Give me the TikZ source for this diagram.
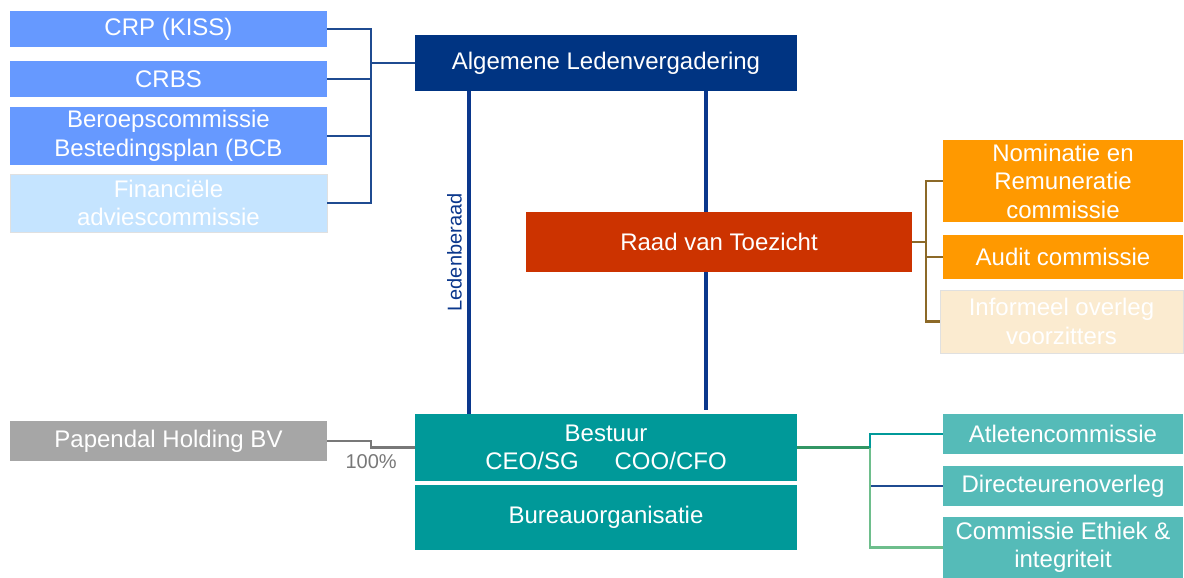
\documentclass[tikz,border=0pt]{standalone}
\usepackage{fontspec}
\setmainfont{Liberation Sans}
\usepackage{xcolor}
\usepackage{tikz}

\definecolor{alvblue}{RGB}{0,52,130}
\definecolor{boxblue}{RGB}{102,153,255}
\definecolor{paleblue}{RGB}{197,228,255}
\definecolor{rvtred}{RGB}{204,51,0}
\definecolor{orangebox}{RGB}{255,153,0}
\definecolor{palebeige}{RGB}{251,235,208}
\definecolor{holdgray}{RGB}{166,166,166}
\definecolor{bestteal}{RGB}{0,153,153}
\definecolor{lightteal}{RGB}{85,187,184}
\definecolor{linkblue}{RGB}{31,75,145}
\definecolor{trunkblue}{RGB}{10,55,140}
\definecolor{linkbrown}{RGB}{140,105,40}
\definecolor{linkgreen}{RGB}{50,150,100}
\definecolor{linkmint}{RGB}{110,190,140}
\definecolor{holdline}{RGB}{120,120,120}

\tikzset{
  box/.style={inner sep=0pt, text=white, align=center,
    font=\fontsize{24}{28.5}\selectfont},
  link/.style={line width=2.2pt},
  trunk/.style={line width=4pt, trunkblue}
}

\begin{document}
\begin{tikzpicture}[x=1pt, y=-1pt]
    \useasboundingbox (0, 0) rectangle (1184, 578);

    % linker commissies
    \node[box, fill=boxblue, minimum width=317, minimum height=36] at (168.5, 29) (crp) {CRP (KISS)};
    \node[box, fill=boxblue, minimum width=317, minimum height=36] at (168.5, 79) (crbs) {CRBS};
    \node[box, fill=boxblue, minimum width=317, minimum height=58] at (168.5, 136) (bcb) {Beroepscommissie\\Bestedingsplan (BCB};
    \node[box, fill=paleblue, draw=black!12, minimum width=317, minimum height=58] at (168.5, 203) (fac) {Financiële\\adviescommissie};
    \node[box, fill=holdgray, minimum width=317, minimum height=40] at (168.5, 441) (papendal) {Papendal Holding BV};

    % midden
    \node[box, fill=alvblue, minimum width=382, minimum height=56] at (606, 63) (alv) {Algemene Ledenvergadering};
    \node[box, fill=rvtred, minimum width=386, minimum height=60] at (719, 242) (rvt) {Raad van Toezicht};
    \node[box, fill=bestteal, minimum width=382, minimum height=67] at (606, 447.5) (bestuur) {Bestuur\\CEO/SG\hspace{36pt}COO/CFO};
    \node[box, fill=bestteal, minimum width=382, minimum height=65] at (606, 517.5) (bureau) {Bureauorganisatie};

    % rechter commissies
    \node[box, fill=orangebox, minimum width=240, minimum height=82] at (1063, 181) (nrc) {Nominatie en\\Remuneratie\\commissie};
    \node[box, fill=orangebox, minimum width=240, minimum height=44] at (1063, 257) (audit) {Audit commissie};
    \node[box, fill=palebeige, draw=black!12, minimum width=243, minimum height=63] at (1061.5, 321.5) (overleg) {Informeel overleg\\voorzitters};
    \node[box, fill=lightteal, minimum width=240, minimum height=40] at (1063, 434) (atleten) {Atletencommissie};
    \node[box, fill=lightteal, minimum width=240, minimum height=40] at (1063, 486) (directeuren) {Directeurenoverleg};
    \node[box, fill=lightteal, minimum width=240, minimum height=61] at (1063, 547.5) (ethiek) {Commissie Ethiek \&\\integriteit};

    \coordinate (lb) at (371, 63);
    \coordinate (rb) at (926, 242);
    \coordinate (br) at (870, 447.5);

    \draw[link, linkblue] (crp.east) -| (lb) -- (alv.west);
    \draw[link, linkblue] (crbs.east) -| (lb);
    \draw[link, linkblue] (bcb.east) -| (lb);
    \draw[link, linkblue] (fac.east) -| (lb);

    \draw[trunk] ([xshift=54]alv.south west) -- ([xshift=54]bestuur.north west)
        node[midway, rotate=90, anchor=south, inner sep=5pt, text=trunkblue,
             font=\fontsize{20}{24}\selectfont] {Ledenberaad};
    \draw[trunk] ([xshift=-91]alv.south east) -- ([xshift=-91]alv.south east |- rvt.north);
    \draw[trunk] ([xshift=-91]alv.south east |- rvt.south) -- ([xshift=-91, yshift=4]bestuur.north east);

    \draw[link, linkbrown] (rvt.east) -- (rb);
    \draw[link, linkbrown] (rb) |- (nrc.west);
    \draw[link, linkbrown] (rb) |- (audit.west);
    \draw[link, linkbrown] (rb) |- (overleg.west);

    \draw[link, linkgreen] (bestuur.east) -- (br);
    \draw[link, bestteal] (br) |- (atleten.west);
    \draw[link, linkblue] (br) |- (directeuren.west);
    \draw[link, linkmint] (br) |- (ethiek.west);

    \draw[link, holdline] (papendal.east) -- ++(44, 0) |- (bestuur.west)
        node[pos=0.25, below=6pt, text=holdline, font=\fontsize{20}{24}\selectfont] {100\%};
\end{tikzpicture}
\end{document}
